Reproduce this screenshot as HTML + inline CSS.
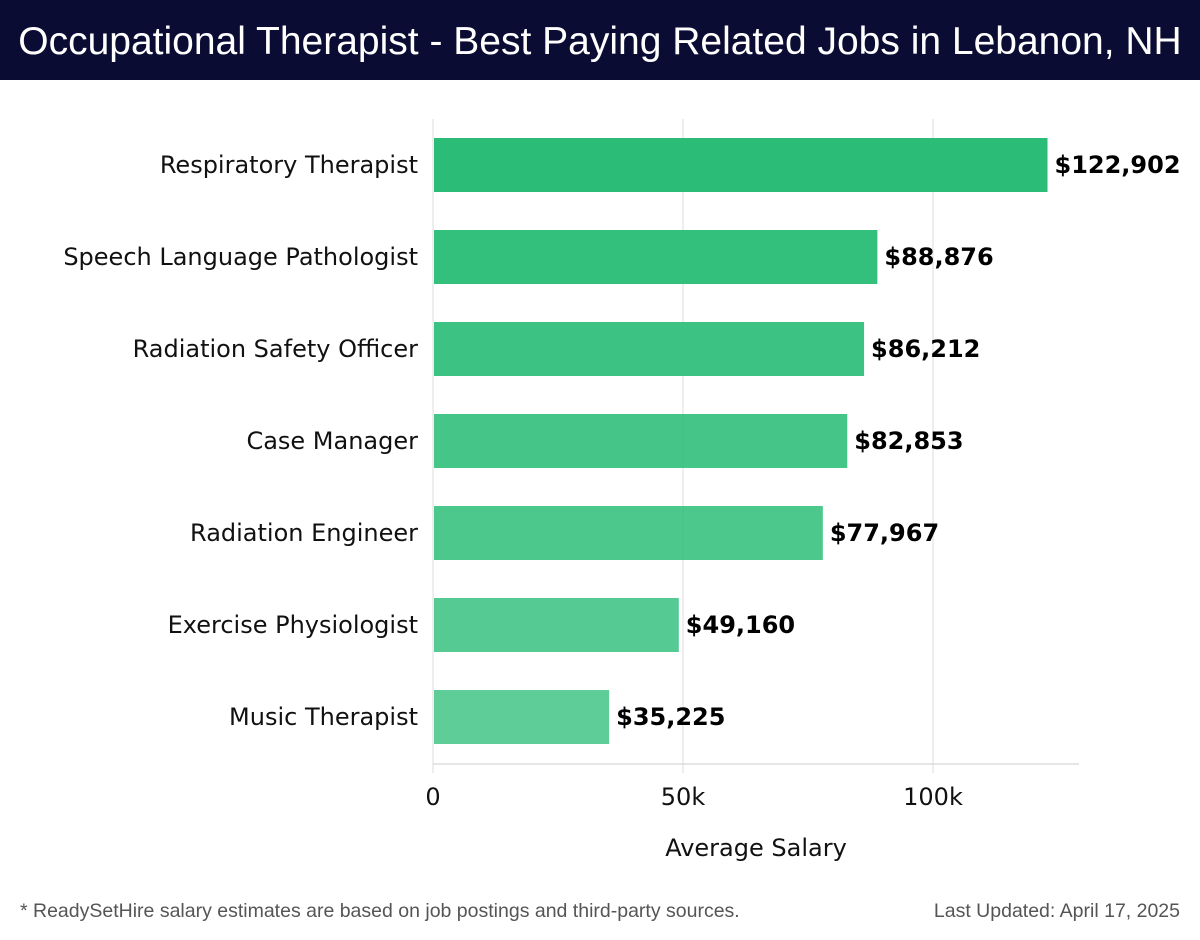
<!DOCTYPE html>
<html><head><meta charset="utf-8"><style>
body{margin:0;width:1200px;height:940px;background:#fff;overflow:hidden;font-family:"DejaVu Sans","Liberation Sans",sans-serif}
#hdr{position:absolute;left:0;top:0;width:1200px;height:80px;background:#0b0c33;color:#fff;font-family:"Liberation Sans",sans-serif;font-size:39px;line-height:84px;text-align:center;font-weight:300}
.foot{position:absolute;top:900px;font-size:19.5px;color:#555;font-family:"Liberation Sans",sans-serif}
</style></head><body>
<div id="hdr">Occupational Therapist - Best Paying Related Jobs in Lebanon, NH</div>
<svg id="chart" width="1200" height="880" style="position:absolute;left:0;top:0"></svg>
<div class="foot" style="left:20px">* ReadySetHire salary estimates are based on job postings and third-party sources.</div>
<div class="foot" style="right:20px">Last Updated: April 17, 2025</div>
<script>
const categories=["Respiratory Therapist","Speech Language Pathologist","Radiation Safety Officer","Case Manager","Radiation Engineer","Exercise Physiologist","Music Therapist"];
const values=[122902,88876,86212,82853,77967,49160,35225];
const tickValues=[0,50000,100000];
const tickLabels=["0","50k","100k"];
const svg=document.getElementById('chart');
const NS='http://www.w3.org/2000/svg';
const x0=433,pxPerUnit=250/50000,plotTop=119,step=92,barH=54;
const xs=v=>x0+v*pxPerUnit;
const yc=i=>plotTop+46+i*step;
function mk(t,a){const e=document.createElementNS(NS,t);for(const k in a)e.setAttribute(k,a[k]);svg.appendChild(e);return e;}
tickValues.forEach((v,i)=>{
 const g=mk('line',{x1:xs(v),x2:xs(v),y1:plotTop,y2:773,stroke:'#ddd','stroke-width':1});
 
 
 const t=mk('text',{x:xs(v),y:805,'text-anchor':'middle','font-size':24,fill:'#111'});
 t.textContent=tickLabels[i];
 
 
});
const ax=mk('line',{x1:x0,x2:1079,y1:764,y2:764,stroke:'#ccc','stroke-width':1});


const at=mk('text',{x:756,y:856,'text-anchor':'middle','font-size':24,fill:'#111'});
at.textContent='Average Salary';


values.forEach((v,i)=>{
 const r=mk('rect',{x:x0+1,y:yc(i)-barH/2,width:xs(v)-x0-1,height:barH,fill:'#2bbd77','fill-opacity':(1-i*0.04).toFixed(3)});
 
 
 const l=mk('text',{x:418,y:yc(i)+8,'text-anchor':'end','font-size':24,fill:'#111'});
 l.textContent=categories[i];
 
 
 const vl=mk('text',{x:xs(v)+7,y:yc(i)+8,'font-size':24,'font-weight':'bold',fill:'#000'});
 vl.textContent='$'+v.toLocaleString('en-US');
 
 
});
</script>
</body></html>
